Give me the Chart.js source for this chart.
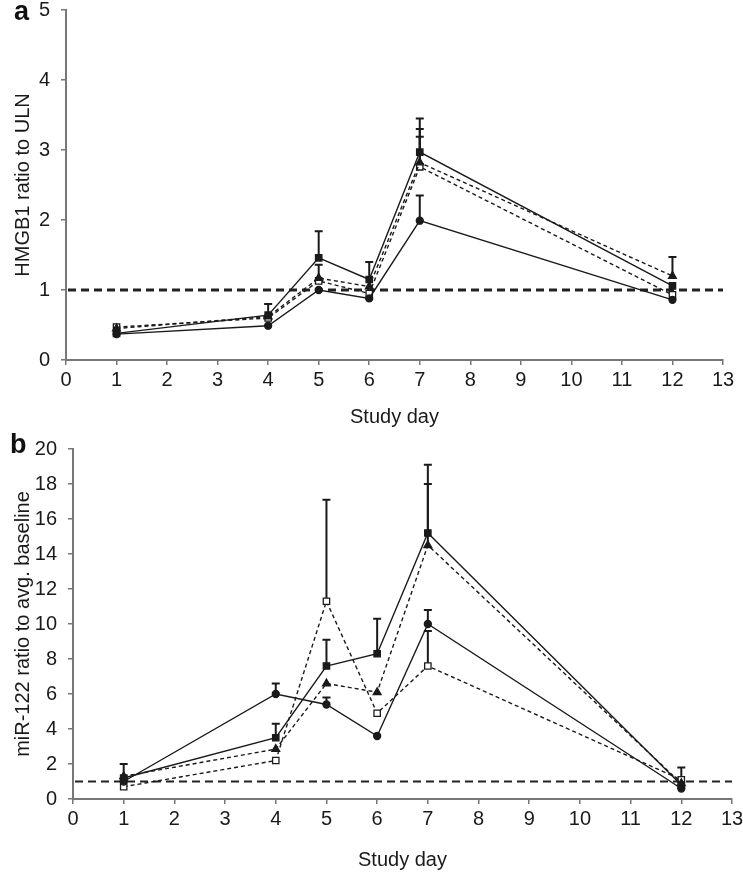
<!DOCTYPE html>
<html>
<head>
<meta charset="utf-8">
<script src="https://cdn.jsdelivr.net/npm/chart.js@4.4.1/dist/chart.umd.min.js"></script>
<style>
  html, body { margin: 0; padding: 0; background: #fff; }
  #wrap { position: relative; width: 743px; height: 873px; overflow: hidden; }
  canvas { position: absolute; left: 0; }
  .panel { position: absolute; font-family: "Liberation Sans", Arial, sans-serif; font-weight: bold;
           font-size: 27px; line-height: 27px; color: #111; }
</style>
</head>
<body>
<div id="wrap">
  <canvas id="chartA" width="743" height="430" style="top:0"></canvas>
  <canvas id="chartB" width="743" height="443" style="top:430px"></canvas>
  <div class="panel" style="left:14px;top:-2px">a</div>
  <div class="panel" style="left:10px;top:431px">b</div>
</div>
<script>
// study days shared by both panels
var days = [1, 4, 5, 6, 7, 12];
var xTickValues = [0, 1, 2, 3, 4, 5, 6, 7, 8, 9, 10, 11, 12, 13];

// panel a: HMGB1 ratio to ULN (mean, upper error)
var aTickValues = [0, 1, 2, 3, 4, 5];
var aCircle      = [0.37, 0.49, 1.00, 0.88, 1.99, 0.86];
var aCircleErr   = [null, null, null, null, 0.36, null];
var aSquare      = [0.38, 0.64, 1.46, 1.15, 2.97, 1.06];
var aSquareErr   = [null, 0.16, 0.38, 0.25, 0.48, null];
var aTriangle    = [0.45, 0.62, 1.17, 1.05, 2.82, 1.20];
var aTriangleErr = [null, null, 0.19, null, 0.48, 0.27];
var aOpen        = [0.47, 0.60, 1.13, 0.95, 2.76, 0.93];
var aOpenErr     = [null, null, null, null, 0.43, null];

// panel b: miR-122 ratio to avg. baseline
var bTickValues = [0, 2, 4, 6, 8, 10, 12, 14, 16, 18, 20];
var bCircle      = [1.0, 6.0, 5.4, 3.6, 10.0, 0.6];
var bCircleErr   = [null, 0.6, 0.4, null, 0.8, null];
var bSquare      = [1.2, 3.5, 7.6, 8.3, 15.2, 0.8];
var bSquareErr   = [0.8, 0.8, 1.5, 2.0, 3.9, 1.0];
var bTriangle    = [1.3, 2.85, 6.6, 6.1, 14.5, 0.9];
var bTriangleErr = [null, null, null, null, 3.5, null];
var bOpen        = [0.7, 2.2, 11.3, 4.9, 7.6, 1.1];
var bOpenErr     = [null, null, 5.8, null, 2.0, null];

var ink = '#1a1a1a';
var axisGray = '#777';
var fontFamily = '"Liberation Sans", Arial, sans-serif';

function pts(vals) {
    return vals.map(function(v, i) { return {x: days[i], y: v}; });
}

function series(vals, errs, style, dashed, open) {
    return {
        data: pts(vals),
        errPlus: errs,
        borderColor: ink,
        borderWidth: 1.4,
        borderDash: dashed ? [4, 3] : [],
        pointStyle: style,
        pointRadius: style === 'circle' ? 3.5 : 4.5,
        pointBorderWidth: 1.3,
        pointBorderColor: ink,
        pointBackgroundColor: open ? '#fff' : ink,
        tension: 0,
        fill: false
    };
}

// upward error bars with a cap
var errorBars = {
    id: 'errorBars',
    beforeDatasetsDraw: function(chart) {
        var ctx = chart.ctx, xs = chart.scales.x, ys = chart.scales.y;
        ctx.save();
        ctx.strokeStyle = ink;
        ctx.lineWidth = 2;
        chart.data.datasets.forEach(function(ds) {
            (ds.errPlus || []).forEach(function(e, i) {
                if (e == null) return;
                var px = xs.getPixelForValue(ds.data[i].x);
                var y0 = ys.getPixelForValue(ds.data[i].y);
                var y1 = ys.getPixelForValue(ds.data[i].y + e);
                ctx.beginPath();
                ctx.moveTo(px, y0);
                ctx.lineTo(px, y1);
                ctx.moveTo(px - 4, y1);
                ctx.lineTo(px + 4, y1);
                ctx.stroke();
            });
        });
        ctx.restore();
    }
};

// dashed line at ratio = 1
var refLine = {
    id: 'refLine',
    beforeDatasetsDraw: function(chart, args, opts) {
        var ctx = chart.ctx, area = chart.chartArea;
        var y = chart.scales.y.getPixelForValue(opts.value);
        ctx.save();
        ctx.strokeStyle = '#222';
        ctx.lineWidth = opts.width;
        ctx.setLineDash([8, 5]);
        ctx.beginPath();
        ctx.moveTo(area.left + 2, y);
        ctx.lineTo(area.right, y);
        ctx.stroke();
        ctx.restore();
    }
};

function makeChart(id, datasets, yTicks, yMax, yTitle, box) {
    return new Chart(document.getElementById(id), {
        type: 'line',
        data: {datasets: datasets},
        plugins: [refLine, errorBars],
        options: {
            responsive: false,
            animation: false,
            layout: {padding: {top: box.top, right: box.right, left: 0, bottom: 0}},
            plugins: {
                legend: {display: false},
                tooltip: {enabled: false},
                refLine: {value: 1, width: box.refWidth}
            },
            scales: {
                x: {
                    type: 'linear',
                    min: 0,
                    max: 13,
                    afterBuildTicks: function(s) {
                        s.ticks = xTickValues.map(function(v) { return {value: v}; });
                    },
                    afterFit: function(s) {
                        s.height = box.xHeight;
                        s.paddingLeft = 0;
                        s.paddingRight = 0;
                    },
                    border: {display: true, color: axisGray, width: 2},
                    grid: {drawOnChartArea: false, drawTicks: true, tickLength: 5, color: axisGray, lineWidth: 1.5},
                    ticks: {color: ink, padding: 3, font: {family: fontFamily, size: 20}},
                    title: {display: true, text: 'Study day', color: ink,
                            font: {family: fontFamily, size: 20}, padding: {top: 0, bottom: 1}}
                },
                y: {
                    type: 'linear',
                    min: 0,
                    max: yMax,
                    afterBuildTicks: function(s) {
                        s.ticks = yTicks.map(function(v) { return {value: v}; });
                    },
                    afterFit: function(s) {
                        s.width = box.yWidth;
                        s.paddingTop = 0;
                        s.paddingBottom = 0;
                    },
                    border: {display: true, color: axisGray, width: 2},
                    grid: {drawOnChartArea: false, drawTicks: true, tickLength: 5, color: axisGray, lineWidth: 1.5},
                    ticks: {color: ink, padding: box.yPad, font: {family: fontFamily, size: 20}},
                    title: {display: true, text: yTitle, color: ink,
                            font: {family: fontFamily, size: 20}, padding: {top: 11, bottom: 0}}
                }
            }
        }
    });
}

makeChart('chartA', [
    series(aCircle, aCircleErr, 'circle', false, false),
    series(aSquare, aSquareErr, 'rect', false, false),
    series(aTriangle, aTriangleErr, 'triangle', true, false),
    series(aOpen, aOpenErr, 'rect', true, true)
], aTickValues, 5, 'HMGB1 ratio to ULN',
   {top: 10, right: 20, xHeight: 70, yWidth: 66, yPad: 11, refWidth: 2.8});

makeChart('chartB', [
    series(bCircle, bCircleErr, 'circle', false, false),
    series(bSquare, bSquareErr, 'rect', false, false),
    series(bTriangle, bTriangleErr, 'triangle', true, false),
    series(bOpen, bOpenErr, 'rect', true, true)
], bTickValues, 20, 'miR-122 ratio to avg. baseline',
   {top: 19, right: 11, xHeight: 74, yWidth: 73, yPad: 11, refWidth: 2.2});
</script>
</body>
</html>
